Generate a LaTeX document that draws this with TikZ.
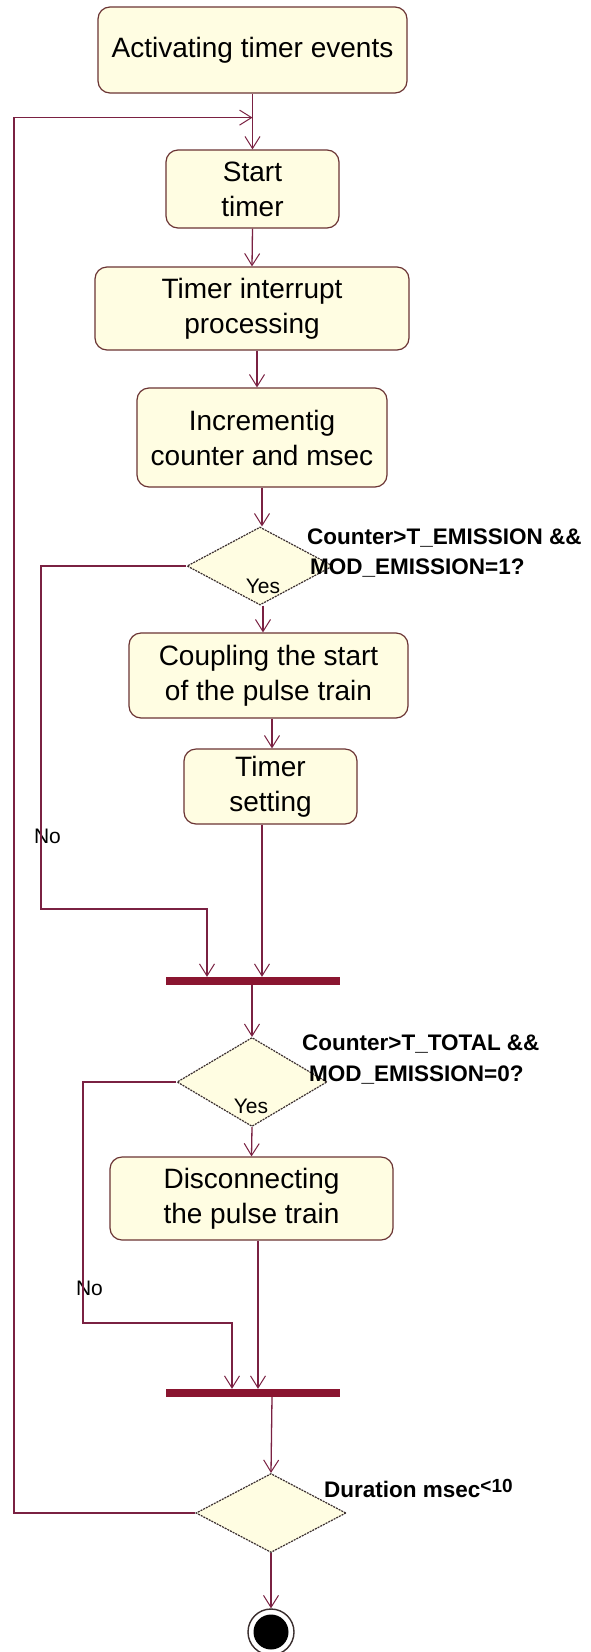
\documentclass[tikz,border=0pt]{standalone}
\usepackage{fontspec}
\setmainfont{Liberation Sans}
\usetikzlibrary{arrows.meta,shapes.geometric,calc}
\definecolor{ln}{HTML}{7A2142}
\definecolor{bx}{HTML}{FFFDE2}
\definecolor{bd}{HTML}{6B3434}
\definecolor{barc}{HTML}{8A1530}
\definecolor{dd}{HTML}{3A2E2E}
\begin{document}
\begin{tikzpicture}[x=1pt,y=-1pt,
  actbox/.style={draw=bd, fill=bx, line width=1.2pt, rounded corners=12pt, align=center,
    font=\fontsize{28}{35}\selectfont, inner sep=0pt},
  dec/.style={diamond, draw=dd, dash pattern=on 2pt off 1pt, fill=bx, line width=1.2pt, inner sep=0pt},
  syncbar/.style={rectangle, fill=barc, draw=none, inner sep=0pt, minimum width=174pt, minimum height=8pt},
  flow/.style={draw=ln, line width=1.3pt, -{Straight Barb[length=12pt,width=15pt,line width=1pt]}},
  lbl/.style={font=\bfseries\fontsize{22.5}{27}\selectfont, inner sep=0pt, anchor=base west},
  guard/.style={font=\fontsize{21}{25}\selectfont, inner sep=0pt, anchor=base},
]
\useasboundingbox[fill=white] (0,0) rectangle (590,1652);

\node[actbox, minimum width=309pt, minimum height=86pt] (box1) at (252.5,50) {Activating timer events};
\node[actbox, minimum width=173pt, minimum height=78pt] (start) at (252.5,189) {Start\\timer};
\node[actbox, minimum width=314pt, minimum height=83pt] (tip) at (252,308.5) {Timer interrupt\\processing};
\node[actbox, minimum width=250pt, minimum height=99pt] (inc) at (262,437.5) {Incrementig\\counter and msec};
\node[dec, minimum width=146pt, minimum height=78pt] (d1) at (260,566) {};
\node[actbox, minimum width=279pt, minimum height=85pt] (coup) at (268.5,675.5) {Coupling the start\\of the pulse train};
\node[actbox, minimum width=173pt, minimum height=75pt] (tset) at (270.5,786.5) {Timer\\setting};
\node[syncbar] (bar1) at (253,981) {};
\node[dec, minimum width=150pt, minimum height=89pt] (d2) at (252,1082) {};
\node[actbox, minimum width=283pt, minimum height=83pt] (disc) at (251.5,1198.5) {Disconnecting\\the pulse train};
\node[syncbar] (bar2) at (252.5,1393) {};
\node[dec, minimum width=150pt, minimum height=79pt] (d3) at (271,1513) {};
\node[circle, draw=dd, line width=1.4pt, fill=white, minimum size=46pt, inner sep=0pt] (fin) at (271,1632) {};
\fill[black] (fin.center) circle (17.5pt);

% labels
\node[lbl] (c1a) at (307,544) {Counter>T\_EMISSION \&\&};
\node[lbl] (c1b) at (310,574) {MOD\_EMISSION=1?};
\node[lbl] (c2a) at (302,1050) {Counter>T\_TOTAL \&\&};
\node[lbl] (c2b) at (309,1081) {MOD\_EMISSION=0?};
\node[lbl] (c3) at (324,1497) {Duration msec\raisebox{4.5pt}{\fontsize{19}{19}\selectfont<10}};
\node[guard] (yes1) at (263,593) {Yes};
\node[guard] (yes2) at (251,1113) {Yes};
\node[guard] (no1) at (47.5,843) {No};
\node[guard] (no2) at (89.5,1295) {No};

% coordinates
\coordinate (loopin) at ($(box1.south)+(0,24)$);
\coordinate (loopL) at (14,1513);
\coordinate (no1L) at (41,909);
\coordinate (no2L) at (83,1323);

% connectors
\draw[flow] (box1.south) -- (start.north);
\draw[flow] (d3.west) -- (loopL) |- (loopin);
\draw[flow] (start.south) -- (tip.north);
\draw[flow] ([xshift=5pt]tip.south) -- ([xshift=-5pt]inc.north);
\draw[flow] (inc.south) -- ([xshift=2pt]d1.north);
\draw[flow] ([xshift=3pt]d1.south) -- ([xshift=-5.5pt]coup.north);
\draw[flow] ([xshift=3.5pt]coup.south) -- ([xshift=1.5pt]tset.north);
\draw[flow] ([xshift=-8.5pt]tset.south) -- ([xshift=9pt]bar1.north);
\draw[flow] (d1.west) -| (no1L) -| ([xshift=-46pt]bar1.north);
\draw[flow] ([xshift=-1pt]bar1.south) -- (d2.north);
\draw[flow] (d2.south) -- (disc.north);
\draw[flow] (d2.west) -| (no2L) -| ([xshift=-20.5pt]bar2.north);
\draw[flow] ([xshift=6.5pt]disc.south) -- ([xshift=5.5pt]bar2.north);
\draw[flow] ([xshift=19.5pt]bar2.south) -- (d3.north);
\draw[flow] (d3.south) -- (fin.north);
\end{tikzpicture}
\end{document}
